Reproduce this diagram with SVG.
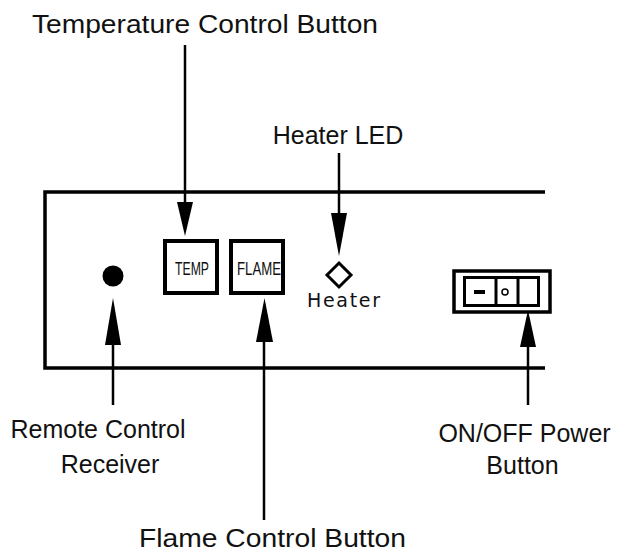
<svg xmlns="http://www.w3.org/2000/svg" width="629" height="552" viewBox="0 0 629 552">
<style>
.lbl{font-family:"Liberation Sans",Arial,sans-serif;font-size:25px;fill:#111;text-anchor:middle}
.btn{font-family:"Liberation Sans",Arial,sans-serif;font-size:19px;fill:#111;text-anchor:middle}
.ln{stroke:#000;stroke-width:2.5;fill:none}
.pn{stroke:#000;stroke-width:3.5;fill:none}
.hd{fill:#000}
</style>
<rect width="629" height="552" fill="#fff"/>
<g id="panel">
<path class="pn" d="M545,192 H45 V368 H545"/>
</g>
<g id="receiver">
<circle cx="113" cy="276" r="10.5" fill="#000"/>
</g>
<g id="temp-button">
<rect x="165" y="241" width="52" height="52" fill="#fff" stroke="#000" stroke-width="4"/>
<text class="btn" x="192" y="275" textLength="34" lengthAdjust="spacingAndGlyphs">TEMP</text>
</g>
<g id="flame-button">
<rect x="231" y="241" width="52" height="52" fill="#fff" stroke="#000" stroke-width="4"/>
<text class="btn" x="259" y="275" textLength="44" lengthAdjust="spacingAndGlyphs">FLAME</text>
</g>
<g id="heater-led">
<polygon points="339,263 351,275 339,287 327,275" fill="none" stroke="#000" stroke-width="3"/>
<text x="343.5" y="307" font-family="DejaVu Sans,sans-serif" font-size="19" fill="#111" text-anchor="middle" textLength="73" lengthAdjust="spacing">Heater</text>
</g>
<g id="power-switch">
<rect x="454" y="271" width="96" height="41" fill="#fff" stroke="#000" stroke-width="3.5"/>
<rect x="464.5" y="277.5" width="74" height="28" fill="none" stroke="#000" stroke-width="3"/>
<line x1="496" y1="277" x2="496" y2="306" stroke="#000" stroke-width="3"/>
<line x1="518" y1="277" x2="518" y2="306" stroke="#000" stroke-width="3"/>
<rect x="474" y="290" width="11" height="4" fill="#000"/>
<circle cx="505" cy="292" r="3" fill="none" stroke="#000" stroke-width="1.5"/>
</g>
<g id="connectors">
<line class="ln" x1="185" y1="45" x2="185" y2="205"/>
<polygon class="hd" points="177,202 193,202 185,236"/>
<line class="ln" x1="339" y1="153" x2="339" y2="216"/>
<polygon class="hd" points="331,213 347,213 339,256"/>
<line class="ln" x1="113" y1="342" x2="113" y2="405"/>
<polygon class="hd" points="105,345 121,345 113,298"/>
<line class="ln" x1="264" y1="340" x2="264" y2="520"/>
<polygon class="hd" points="256,342 273,342 264.5,298"/>
<line class="ln" x1="528" y1="344" x2="528" y2="405"/>
<polygon class="hd" points="520,347 536,347 528,310"/>
</g>
<g id="labels">
<text class="lbl" x="205" y="33" textLength="346" lengthAdjust="spacingAndGlyphs">Temperature Control Button</text>
<text class="lbl" x="338" y="144">Heater LED</text>
<text class="lbl" x="98" y="438">Remote Control</text>
<text class="lbl" x="110" y="473">Receiver</text>
<text class="lbl" x="524.5" y="442">ON/OFF Power</text>
<text class="lbl" x="522.5" y="474">Button</text>
<text class="lbl" x="272.5" y="547" textLength="267" lengthAdjust="spacingAndGlyphs">Flame Control Button</text>
</g>
</svg>
